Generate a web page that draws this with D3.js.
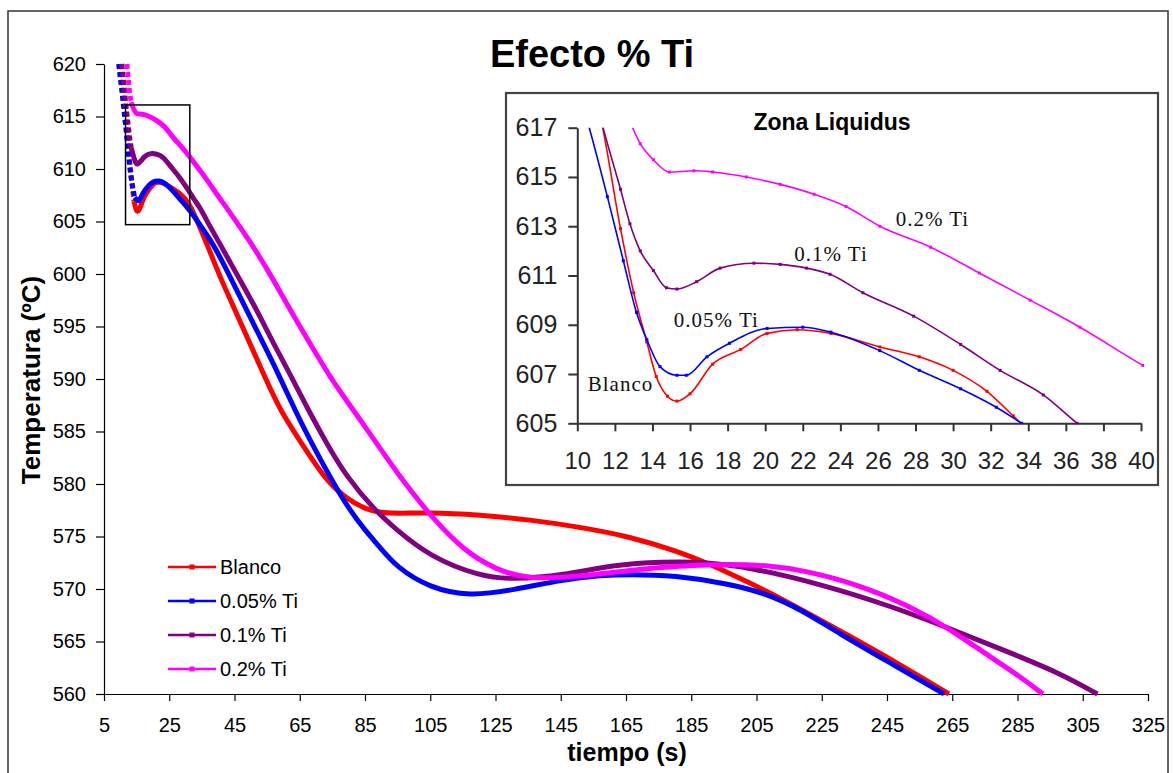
<!DOCTYPE html>
<html>
<head>
<meta charset="utf-8">
<script src="https://cdn.jsdelivr.net/npm/d3@7"></script>
<style>
  html, body { margin: 0; padding: 0; background: #fff; }
  svg { display: block; }
</style>
</head>
<body>
<svg id="chart" width="1173" height="773"></svg>
<script>
// ---- Cooling curves: [time (s), temperature (ºC)] ----
const blanco = [
  [10.4,620],[11.3,617.2],[12.3,612.9],[13.0,610.3],[13.7,608.3],[14.2,606.9],[14.8,606.1],
  [15.3,605.9],[16.0,606.2],[17.2,607.4],[18.7,608.0],[20.1,608.65],[21.7,608.8],[23.5,608.65],
  [26.1,608.1],[28.2,607.7],[30.0,607.15],[31.8,606.3],[33.2,605.3],[36.5,602.9],[40.5,599.75],
  [45.1,596.6],[49.7,593.4],[54.3,590.2],[58.9,587.05],[65.5,583.9],[72.2,580.7],[78.3,578.8],
  [85.5,577.5],[92.0,577.15],[104.8,577.3],[120.2,577.05],[135.5,576.6],[150.8,575.9],
  [166.1,575.0],[181.4,573.55],[191.0,572.3],[196.7,571.5],[207.7,569.9],[224.5,567.05],
  [241.3,564.2],[264.0,560.0]
];
const ti005 = [
  [9.5,620],[10.6,617.1],[11.6,614.2],[12.45,611.6],[13.15,609.5],[13.7,608.4],[14.4,607.3],
  [15.3,606.95],[15.8,606.95],[16.9,607.7],[18.1,608.25],[20.1,608.85],[22.0,608.9],[23.5,608.7],
  [26.1,607.95],[28.2,607.15],[30.4,606.4],[32.3,605.65],[33.65,605.0],[38.5,602.9],[43.6,599.75],
  [48.7,596.6],[53.8,593.4],[58.9,590.2],[63.5,587.05],[68.6,583.9],[74.2,580.7],[80.3,577.5],
  [84.9,575.65],[89.5,574.0],[94.6,572.1],[104.8,570.1],[117.1,569.3],[130.4,569.9],[145.7,570.9],
  [157.4,571.3],[166.1,571.4],[179.8,571.3],[196.6,570.5],[207.7,569.6],[218.9,568.0],
  [230.1,565.8],[246.9,562.8],[262.5,560.0]
];
const ti01 = [
  [10.4,620],[11.3,617.2],[12.3,614.5],[12.8,613.1],[13.35,612.0],[14.05,611.2],[14.75,610.5],
  [15.3,610.45],[16.35,610.75],[17.6,611.3],[19.4,611.5],[20.8,611.45],[22.2,611.3],[23.45,611.05],
  [25.2,610.3],[27.9,609.35],[30.4,608.2],[32.5,607.15],[34.8,606.15],[36.6,605.0],[40.5,602.9],
  [46.1,599.75],[51.8,596.6],[56.9,593.4],[62.5,590.2],[67.6,587.05],[73.2,583.9],[79.3,580.7],
  [88.0,577.5],[94.6,575.65],[104.8,573.1],[120.2,571.2],[130.4,570.9],[145.7,571.3],[161.0,572.3],
  [176.3,572.6],[190.0,572.55],[202.1,572.1],[224.5,570.5],[246.9,568.3],[263.7,566.3],
  [280.5,564.2],[297.3,562.1],[309.5,560.0]
];
const ti02 = [
  [12.0,620],[12.85,617.2],[13.35,616.35],[14.05,615.7],[14.9,615.2],[16.2,615.25],[17.2,615.2],
  [19.0,615.0],[20.8,614.7],[22.6,614.3],[24.3,613.8],[26.1,613.0],[28.8,612.15],[31.4,611.1],
  [34.1,610.0],[36.75,608.9],[40.1,607.35],[43.1,606.1],[50.2,602.9],[56.4,599.75],[62.0,596.6],
  [68.1,593.4],[74.2,590.2],[81.4,587.05],[88.5,583.9],[95.7,580.7],[101.3,578.5],[104.8,577.1],
  [115.0,573.7],[125.3,571.8],[135.5,570.9],[150.8,571.2],[166.1,571.8],[181.4,572.2],
  [196.7,572.4],[210.0,572.2],[218.9,571.8],[235.7,570.5],[252.5,568.3],[263.7,566.3],
  [274.9,563.9],[286.1,561.6],[292.8,560.0]
];

const seriesNames  = ["Blanco", "0.05% Ti", "0.1% Ti", "0.2% Ti"];
const seriesColors = ["#ff0000", "#0000ff", "#800080", "#ff00ff"];
const seriesData   = [blanco, ti005, ti01, ti02];

// Axis ticks
const xTicks = [5, 25, 45, 65, 85, 105, 125, 145, 165, 185, 205, 225, 245, 265, 285, 305, 325];
const yTicks = [560, 565, 570, 575, 580, 585, 590, 595, 600, 605, 610, 615, 620];
const insetXTicks = [10, 12, 14, 16, 18, 20, 22, 24, 26, 28, 30, 32, 34, 36, 38, 40];
const insetYTicks = [605, 607, 609, 611, 613, 615, 617];

// Region enlarged in the "Zona Liquidus" panel (time s, temperature ºC)
const zoomTime = [11.6, 31.3];
const zoomTemp = [604.7, 616.1];

// Curve labels inside the panel: [text, time, temperature]
const insetLabels = [
  ["0.2% Ti", 28.9, 613.3],
  ["0.1% Ti", 23.5, 611.9],
  ["0.05% Ti", 17.4, 609.2],
  ["Blanco", 12.3, 606.6]
];

const SANS = "'Liberation Sans', Arial, Helvetica, sans-serif";
const SERIF = "'Liberation Serif', 'Times New Roman', serif";

const svg = d3.select("#chart");

// outer frame
svg.append("rect")
  .attr("x", 8).attr("y", 11).attr("width", 1160).attr("height", 790)
  .attr("fill", "#fff").attr("stroke", "#333").attr("stroke-width", 1.5);

// ---- main chart ----
const x = d3.scaleLinear().domain([5, 325]).range([104, 1148]);
const y = d3.scaleLinear().domain([560, 620]).range([694, 64]);

svg.append("defs").append("clipPath").attr("id", "plotClip")
  .append("rect").attr("x", 104).attr("y", 62).attr("width", 1046).attr("height", 634);

const xAxis = svg.append("g")
  .attr("transform", `translate(0,${y(560)})`)
  .call(d3.axisBottom(x).tickValues(xTicks).tickFormat(d3.format("d"))
        .tickSize(7).tickSizeOuter(0).tickPadding(17));
const yAxis = svg.append("g")
  .attr("transform", `translate(${x(5)},0)`)
  .call(d3.axisLeft(y).tickValues(yTicks).tickFormat(d3.format("d"))
        .tickSize(8).tickSizeOuter(0).tickPadding(10));
[xAxis, yAxis].forEach(g => {
  g.selectAll("path").attr("stroke", "#000").attr("stroke-width", 1.2);
  g.selectAll("line").attr("stroke", "#000").attr("stroke-width", 1.2);
  g.selectAll("text").attr("fill", "#000").style("font-family", SANS).style("font-size", "20px");
});

// title and axis titles
svg.append("text")
  .attr("x", 592).attr("y", 67).attr("text-anchor", "middle")
  .style("font-family", SANS).style("font-size", "38px").style("font-weight", "bold")
  .text("Efecto % Ti");
svg.append("text")
  .attr("x", 627).attr("y", 761).attr("text-anchor", "middle")
  .style("font-family", SANS).style("font-size", "25px").style("font-weight", "bold")
  .text("tiempo (s)");
svg.append("text")
  .attr("transform", "translate(40,380) rotate(-90)").attr("text-anchor", "middle")
  .style("font-family", SANS).style("font-size", "26px").style("font-weight", "bold")
  .text("Temperatura (ºC)");

// series lines; the steep initial drop is drawn broken
const line = d3.line().x(d => x(d[0])).y(d => y(d[1])).curve(d3.curveBasis);
const plot = svg.append("g").attr("clip-path", "url(#plotClip)");
seriesData.forEach((data, i) => {
  let k = 1;
  while (k < data.length &&
         Math.abs((data[k][1] - data[k - 1][1]) / (data[k][0] - data[k - 1][0])) > 1.5) k++;
  const steep = data.slice(0, k);
  const rest = data.slice(k - 1);
  plot.append("path").datum(steep).attr("d", d3.line().x(d => x(d[0])).y(d => y(d[1])))
    .attr("fill", "none").attr("stroke", seriesColors[i]).attr("stroke-width", 5)
    .attr("stroke-dasharray", "5,3");
  plot.append("path").datum(rest).attr("d", line)
    .attr("fill", "none").attr("stroke", seriesColors[i]).attr("stroke-width", 5)
    .attr("stroke-linejoin", "round");
});

// enlarged-region box
svg.append("rect")
  .attr("x", x(zoomTime[0])).attr("y", y(zoomTemp[1]))
  .attr("width", x(zoomTime[1]) - x(zoomTime[0]))
  .attr("height", y(zoomTemp[0]) - y(zoomTemp[1]))
  .attr("fill", "none").attr("stroke", "#000").attr("stroke-width", 1.5);

// legend
const legend = svg.append("g");
seriesNames.forEach((name, i) => {
  const ly = 567 + i * 34;
  legend.append("line").attr("x1", 168).attr("x2", 216).attr("y1", ly).attr("y2", ly)
    .attr("stroke", seriesColors[i]).attr("stroke-width", 2.6);
  legend.append("rect").attr("x", 189.5).attr("y", ly - 2.5).attr("width", 5).attr("height", 5)
    .attr("fill", seriesColors[i]);
  legend.append("text").attr("x", 220).attr("y", ly).attr("dy", "0.35em")
    .style("font-family", SANS).style("font-size", "20px").attr("fill", "#000")
    .text(name);
});

// ---- "Zona Liquidus" panel ----
const inset = svg.append("g");
inset.append("rect")
  .attr("x", 506).attr("y", 93).attr("width", 652).attr("height", 392)
  .attr("fill", "#fff").attr("stroke", "#444").attr("stroke-width", 2.2);

const ix = d3.scaleLinear().domain([10, 40]).range([577.3, 1141]);
const iy = d3.scaleLinear().domain([605, 617]).range([423.3, 127.7]);

svg.select("defs").append("clipPath").attr("id", "insetClip")
  .append("rect").attr("x", ix(10)).attr("y", iy(617)).attr("width", ix(40) - ix(10) + 3)
  .attr("height", iy(605) - iy(617));

const ixAxis = inset.append("g")
  .attr("transform", `translate(0,${iy(605)})`)
  .call(d3.axisBottom(ix).tickValues(insetXTicks).tickFormat(d3.format("d"))
        .tickSize(8).tickSizeOuter(0).tickPadding(21));
const iyAxis = inset.append("g")
  .attr("transform", `translate(${ix(10)},0)`)
  .call(d3.axisLeft(iy).tickValues(insetYTicks).tickFormat(d3.format("d"))
        .tickSize(9).tickSizeOuter(0).tickPadding(11));
[ixAxis, iyAxis].forEach(g => {
  g.selectAll("path").attr("stroke", "#333").attr("stroke-width", 2);
  g.selectAll("line").attr("stroke", "#333").attr("stroke-width", 2);
  g.selectAll("text").attr("fill", "#222").style("font-family", SANS).style("font-size", "24px");
});
iyAxis.selectAll("text").style("font-size", "25px");

inset.append("text")
  .attr("x", 832).attr("y", 130).attr("text-anchor", "middle")
  .style("font-family", SANS).style("font-size", "23px").style("font-weight", "bold")
  .text("Zona Liquidus");

const iline = d3.line().x(d => ix(d[0])).y(d => iy(d[1])).curve(d3.curveMonotoneX);
const iplot = inset.append("g").attr("clip-path", "url(#insetClip)");
seriesData.forEach((data, i) => {
  iplot.append("path").datum(data).attr("d", iline)
    .attr("fill", "none").attr("stroke", seriesColors[i]).attr("stroke-width", 1.6);
  iplot.selectAll(null)
    .data(data.filter(d => d[0] >= 10 && d[0] <= 40.5 && d[1] >= 605 && d[1] <= 617))
    .join("rect")
    .attr("x", d => ix(d[0]) - 1.5).attr("y", d => iy(d[1]) - 1.5)
    .attr("width", 3).attr("height", 3).attr("fill", seriesColors[i]);
});

inset.selectAll(null).data(insetLabels).join("text")
  .attr("x", d => ix(d[1])).attr("y", d => iy(d[2])).attr("dy", "0.35em")
  .attr("text-anchor", "middle")
  .style("font-family", SERIF).style("font-size", "21px").style("letter-spacing", "1px")
  .attr("fill", "#111")
  .text(d => d[0]);
</script>
</body>
</html>
